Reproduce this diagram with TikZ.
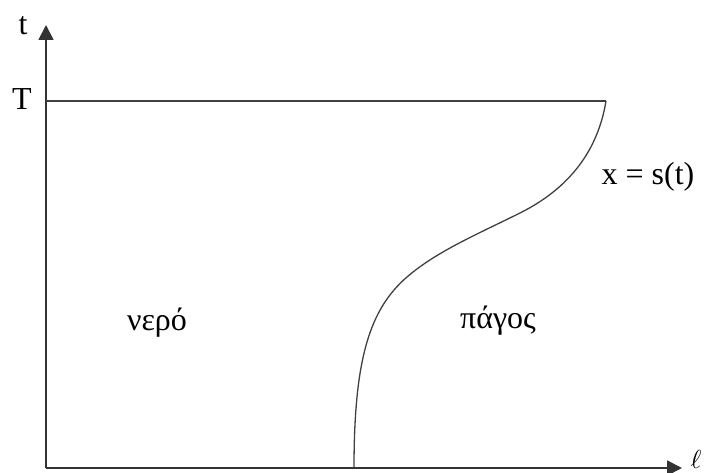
\documentclass[tikz,border=0pt]{standalone}
\usepackage{fontspec}
\setmainfont{Liberation Serif}
\usetikzlibrary{arrows.meta}
\tikzset{
  lbl/.style={font=\fontsize{32}{38}\selectfont, inner sep=0pt, anchor=base, text=black},
  axisline/.style={line width=1.8pt, draw=black!80, -{Triangle[length=15pt,width=15pt]}},
  thinline/.style={line width=1.3pt, draw=black!75},
}
\begin{document}
\begin{tikzpicture}[x=1pt,y=-1pt]
\useasboundingbox (0,0) rectangle (706,473);
\coordinate (O) at (46,468);
\coordinate (ytip) at (46,25);
\coordinate (xtip) at (682,468);
\coordinate (Tl) at (46,101);
\coordinate (Tr) at (606,101);
\coordinate (m1) at (520,213);
\coordinate (m2) at (407,277);
\coordinate (sb) at (354,468);
\draw[axisline] (O) -- (ytip);
\draw[axisline] (O) -- (xtip);
\draw[thinline] (Tl) -- (Tr);
\draw[thinline] (Tr) .. controls (598,150) and (570,188) .. (m1)
  .. controls (480,233) and (437,251) .. (m2)
  .. controls (370,309) and (354,358) .. (sb);
\node[lbl] (tl) at (23,35) {t};
\node[lbl] (TL) at (22,110) {T};
\node[lbl] (sl) at (648,184) {x = s(t)};
\node[lbl] (nero) at (157,330) {νερό};
\node[lbl] (pagos) at (498,328) {πάγος};
\node[inner sep=0pt, anchor=center] (ell) at (696,459) {\scalebox{2.6}{$\ell$}};
\end{tikzpicture}
\end{document}
